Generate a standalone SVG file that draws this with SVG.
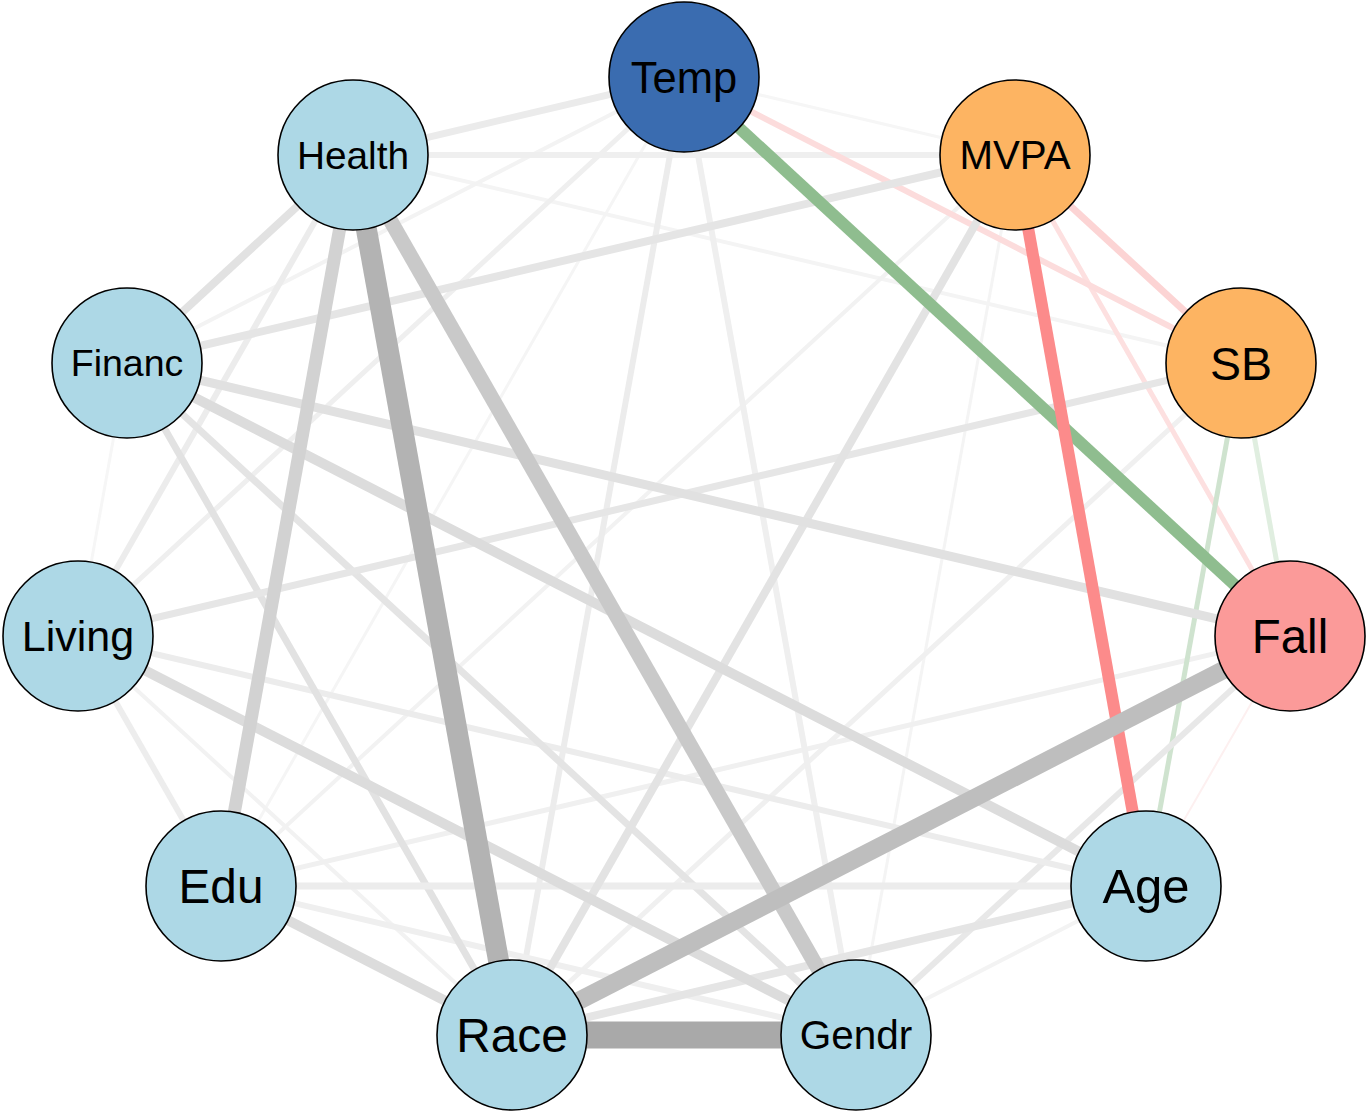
<svg xmlns="http://www.w3.org/2000/svg" width="1367" height="1112" viewBox="0 0 1367 1112">
<style>
.e{fill:none;stroke-linecap:butt}
.n circle{stroke:#000;stroke-width:1.6}
.n text{font-family:"Liberation Sans",Arial,sans-serif;text-anchor:middle;fill:#000}
.b circle{fill:#add8e6}
.o circle{fill:#fdb462}
</style>
<rect width="1367" height="1112" fill="#fff"/>
<g id="edges" class="e">
<line x1="1290" y1="636" x2="1146" y2="886" stroke="#fdf0f0" stroke-width="2"/>
<line x1="684" y1="77" x2="1015" y2="155" stroke="#f6f6f6" stroke-width="3"/>
<line x1="684" y1="77" x2="221" y2="886" stroke="#f5f5f5" stroke-width="3"/>
<line x1="127" y1="363" x2="78" y2="636" stroke="#f6f6f6" stroke-width="3"/>
<line x1="1015" y1="155" x2="856" y2="1035" stroke="#f4f4f4" stroke-width="3"/>
<line x1="353" y1="155" x2="1241" y2="363" stroke="#f4f4f4" stroke-width="4"/>
<line x1="684" y1="77" x2="127" y2="363" stroke="#f3f3f3" stroke-width="4"/>
<line x1="856" y1="1035" x2="1146" y2="886" stroke="#f3f3f3" stroke-width="4"/>
<line x1="1015" y1="155" x2="221" y2="886" stroke="#f2f2f2" stroke-width="4"/>
<line x1="78" y1="636" x2="512" y2="1035" stroke="#f2f2f2" stroke-width="4"/>
<line x1="684" y1="77" x2="78" y2="636" stroke="#efefef" stroke-width="5"/>
<line x1="1241" y1="363" x2="512" y2="1035" stroke="#f0f0f0" stroke-width="5"/>
<line x1="1290" y1="636" x2="221" y2="886" stroke="#f0f0f0" stroke-width="5"/>
<line x1="1241" y1="363" x2="1290" y2="636" stroke="#e0eee0" stroke-width="5"/>
<line x1="1015" y1="155" x2="1290" y2="636" stroke="#fde0e0" stroke-width="5"/>
<line x1="1241" y1="363" x2="1146" y2="886" stroke="#cfe3cf" stroke-width="5"/>
<line x1="353" y1="155" x2="1015" y2="155" stroke="#efefef" stroke-width="6"/>
<line x1="684" y1="77" x2="512" y2="1035" stroke="#ececec" stroke-width="6"/>
<line x1="684" y1="77" x2="856" y2="1035" stroke="#efefef" stroke-width="6"/>
<line x1="353" y1="155" x2="78" y2="636" stroke="#ececec" stroke-width="6"/>
<line x1="78" y1="636" x2="221" y2="886" stroke="#ededed" stroke-width="6"/>
<line x1="221" y1="886" x2="856" y2="1035" stroke="#efefef" stroke-width="6"/>
<line x1="1290" y1="636" x2="856" y2="1035" stroke="#e8e8e8" stroke-width="6"/>
<line x1="78" y1="636" x2="1146" y2="886" stroke="#ececec" stroke-width="6"/>
<line x1="684" y1="77" x2="1241" y2="363" stroke="#fcdcdc" stroke-width="6"/>
<line x1="353" y1="155" x2="684" y2="77" stroke="#ebebeb" stroke-width="7"/>
<line x1="127" y1="363" x2="856" y2="1035" stroke="#e4e4e4" stroke-width="7"/>
<line x1="127" y1="363" x2="512" y2="1035" stroke="#e2e2e2" stroke-width="7"/>
<line x1="1241" y1="363" x2="78" y2="636" stroke="#e6e6e6" stroke-width="7"/>
<line x1="221" y1="886" x2="1146" y2="886" stroke="#ececec" stroke-width="7"/>
<line x1="1015" y1="155" x2="1241" y2="363" stroke="#fcd4d4" stroke-width="7"/>
<line x1="512" y1="1035" x2="1146" y2="886" stroke="#e5e5e5" stroke-width="8"/>
<line x1="1015" y1="155" x2="512" y2="1035" stroke="#e3e3e3" stroke-width="8"/>
<line x1="353" y1="155" x2="127" y2="363" stroke="#e2e2e2" stroke-width="8"/>
<line x1="127" y1="363" x2="1015" y2="155" stroke="#e5e5e5" stroke-width="8"/>
<line x1="127" y1="363" x2="1290" y2="636" stroke="#e1e1e1" stroke-width="9"/>
<line x1="127" y1="363" x2="1146" y2="886" stroke="#dcdcdc" stroke-width="10"/>
<line x1="78" y1="636" x2="856" y2="1035" stroke="#dcdcdc" stroke-width="10"/>
<line x1="221" y1="886" x2="512" y2="1035" stroke="#dcdcdc" stroke-width="10"/>
<line x1="684" y1="77" x2="1290" y2="636" stroke="#8fbd8f" stroke-width="12"/>
<line x1="1015" y1="155" x2="1146" y2="886" stroke="#fc8b8b" stroke-width="12"/>
<line x1="353" y1="155" x2="221" y2="886" stroke="#d2d2d2" stroke-width="13"/>
<line x1="353" y1="155" x2="856" y2="1035" stroke="#c9c9c9" stroke-width="15"/>
<line x1="1290" y1="636" x2="512" y2="1035" stroke="#bebebe" stroke-width="18"/>
<line x1="353" y1="155" x2="512" y2="1035" stroke="#b3b3b3" stroke-width="21"/>
<line x1="512" y1="1035" x2="856" y2="1035" stroke="#a9a9a9" stroke-width="27"/>
</g>
<g id="node-temp" class="n"><circle cx="684" cy="77" r="75" fill="#3a6cb0"/><text x="684" y="92.5" font-size="43.5">Temp</text></g>
<g id="node-mvpa" class="n o"><circle cx="1015" cy="155" r="75"/><text x="1015" y="169.3" font-size="40.3">MVPA</text></g>
<g id="node-sb" class="n o"><circle cx="1241" cy="363" r="75"/><text x="1241" y="379.5" font-size="46.5">SB</text></g>
<g id="node-fall" class="n"><circle cx="1290" cy="636" r="75" fill="#fb9a99"/><text x="1290" y="652.8" font-size="47.4">Fall</text></g>
<g id="node-age" class="n b"><circle cx="1146" cy="886" r="75"/><text x="1146" y="903.4" font-size="49">Age</text></g>
<g id="node-gendr" class="n b"><circle cx="856" cy="1035" r="75"/><text x="856" y="1049.4" font-size="40.5">Gendr</text></g>
<g id="node-race" class="n b"><circle cx="512" cy="1035" r="75"/><text x="512" y="1052" font-size="47.8">Race</text></g>
<g id="node-edu" class="n b"><circle cx="221" cy="886" r="75"/><text x="221" y="903" font-size="47.7">Edu</text></g>
<g id="node-living" class="n b"><circle cx="78" cy="636" r="75"/><text x="78" y="651.3" font-size="43">Living</text></g>
<g id="node-financ" class="n b"><circle cx="127" cy="363" r="75"/><text x="127" y="376.3" font-size="37.5">Financ</text></g>
<g id="node-health" class="n b"><circle cx="353" cy="155" r="75"/><text x="353" y="168.8" font-size="38.8">Health</text></g>
</svg>
